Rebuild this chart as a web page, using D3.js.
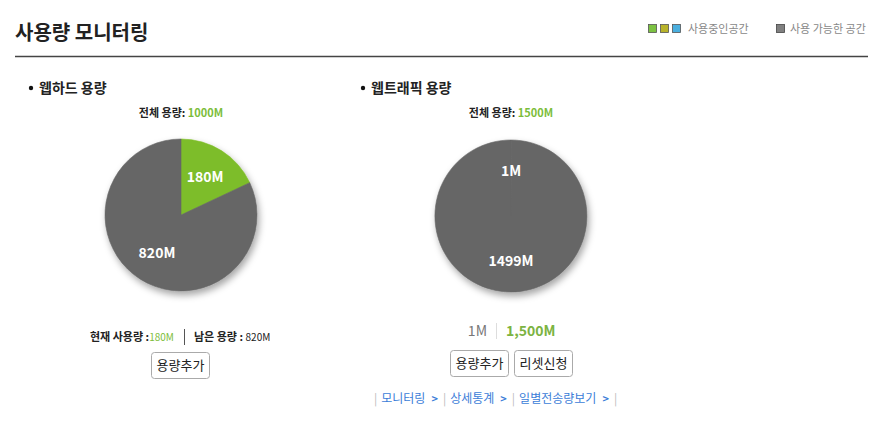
<!DOCTYPE html>
<html><head><meta charset="utf-8">
<script src="https://cdn.jsdelivr.net/npm/d3@7"></script>
<style>
body{margin:0;background:#fff;}
svg{display:block;font-family:"Noto Sans CJK KR","Noto Sans",sans-serif;}
</style></head><body>
<svg id="c" width="883" height="424"></svg>
<script>
const title = "사용량 모니터링";
const legendUsed = "사용중인공간";
const legendFree = "사용 가능한 공간";
const usedColors = ["#7cc242","#b8b32a","#4aafdf"];
const freeColor = "#808080";

const chartTitles = ["웹하드 용량","웹트래픽 용량"];
const totals = ["1000M","1500M"];
const webhardCategories = ["사용중","남은 용량"];
const webhardValues = [180, 820];
const trafficCategories = ["사용중","남은 용량"];
const trafficValues = [1, 1499];
const sliceColors = [["#7dbd29","#666666"],["#666666","#666666"]];
const linkLabels = ["모니터링","상세통계","일별전송량보기"];

const svg = d3.select("#c");
const defs = svg.append("defs");
const f = defs.append("filter").attr("id","sh").attr("x","-30%").attr("y","-30%").attr("width","160%").attr("height","160%");
f.append("feDropShadow").attr("dx",2).attr("dy",4).attr("stdDeviation",3.5).attr("flood-color","#000").attr("flood-opacity",0.35);

// header
svg.append("text").attr("x",15).attr("y",40).attr("font-size",20).attr("font-weight",700).attr("fill","#222").text(title);
svg.append("line").attr("x1",15).attr("x2",868).attr("y1",56.5).attr("y2",56.5).attr("stroke","#444").attr("stroke-width",1.3);

// legend
const lg = svg.append("g");
usedColors.forEach((c,i)=>{
  lg.append("rect").attr("x",648.5+i*12).attr("y",24.5).attr("width",8).attr("height",8).attr("fill",c).attr("stroke","#555").attr("stroke-width",0.8);
});
lg.append("text").attr("x",688).attr("y",33).attr("font-size",11).attr("fill","#888").text(legendUsed);
lg.append("rect").attr("x",776.5).attr("y",24.5).attr("width",8).attr("height",8).attr("fill",freeColor).attr("stroke","#444").attr("stroke-width",0.8);
lg.append("text").attr("x",790).attr("y",33).attr("font-size",11).attr("fill","#888").text(legendFree);

function pieChart(cx, cy, values, bulletX, idx){
  const g = svg.append("g");
  g.append("circle").attr("cx",bulletX).attr("cy",88).attr("r",2.2).attr("fill","#111");
  g.append("text").attr("x",bulletX+8).attr("y",93).attr("font-size",14).attr("font-weight",700).attr("fill","#222").text(chartTitles[idx]);
  const t = g.append("text").attr("x",cx).attr("y",117).attr("text-anchor","middle").attr("font-size",11).attr("font-weight",700).attr("fill","#222");
  t.append("tspan").text("전체 용량: ");
  t.append("tspan").attr("fill","#7cbd3a").text(totals[idx]);

  const R = 76;
  const pie = d3.pie().sort(null).value(d=>d);
  const arcs = pie(values);
  const arc = d3.arc().innerRadius(0).outerRadius(R);
  const labelArc = d3.arc().innerRadius(R*0.59).outerRadius(R*0.59);
  const pg = g.append("g").attr("transform",`translate(${cx},${cy})`);
  pg.append("g").attr("filter","url(#sh)").selectAll("path").data(arcs).join("path")
    .attr("d",arc).attr("fill",(d,i)=>sliceColors[idx][i])
    .attr("stroke",(d,i)=>sliceColors[idx][i]).attr("stroke-width",0.6);
  pg.selectAll("text.lbl").data(arcs).join("text").attr("class","lbl")
    .attr("transform",d=>`translate(${labelArc.centroid(d)})`)
    .attr("text-anchor","middle").attr("dy","0.35em")
    .attr("font-size",14).attr("font-weight",700).attr("fill","#fff")
    .text(d=>d.data+"M");
}
pieChart(181, 215, webhardValues, 31, 0);
pieChart(511, 216, trafficValues, 363, 1);

function button(x,y,w,label){
  const b = svg.append("g");
  b.append("rect").attr("x",x+0.5).attr("y",y+0.5).attr("width",w).attr("height",26).attr("rx",3)
    .attr("fill","#fff").attr("stroke","#aaa");
  b.append("text").attr("x",x+w/2+0.5).attr("y",y+18).attr("text-anchor","middle").attr("font-size",13).attr("fill","#222").text(label);
}

// left footer
const lf = svg.append("text").attr("x",90).attr("y",341).attr("font-size",11).attr("fill","#222");
lf.append("tspan").attr("font-weight",700).text("현재 사용량 :");
lf.append("tspan").attr("fill","#7cbd3a").attr("font-size",10).text(webhardValues[0]+"M");
svg.append("line").attr("x1",184.5).attr("x2",184.5).attr("y1",329).attr("y2",345).attr("stroke","#555");
const lf2 = svg.append("text").attr("x",194).attr("y",341).attr("font-size",11).attr("fill","#222");
lf2.append("tspan").attr("font-weight",700).text("남은 용량 : ");
lf2.append("tspan").attr("font-size",10).text(webhardValues[1]+"M");
button(151,352,58,"용량추가");

// right footer
svg.append("text").attr("x",487).attr("y",336).attr("text-anchor","end").attr("font-size",14).attr("fill","#777").text(trafficValues[0]+"M");
svg.append("line").attr("x1",496.5).attr("x2",496.5).attr("y1",323).attr("y2",339).attr("stroke","#ddd");
svg.append("text").attr("x",506).attr("y",336).attr("font-size",14).attr("font-weight",700).attr("fill","#7cb342").text(d3.format(",")(1500)+"M");
button(450,350,58,"용량추가");
button(514,350,58,"리셋신청");

// links
const lk = svg.append("text").attr("x",374).attr("y",403).attr("font-size",12).attr("fill","#3b7dd8");
lk.append("tspan").attr("fill","#bbb").text("|");
linkLabels.forEach(l=>{
  lk.append("tspan").attr("dx",4).text(l);
  lk.append("tspan").attr("dx",6).attr("font-weight",700).attr("font-size",11).text(">");
  lk.append("tspan").attr("dx",5).attr("fill","#bbb").text("|");
});
</script></body></html>
